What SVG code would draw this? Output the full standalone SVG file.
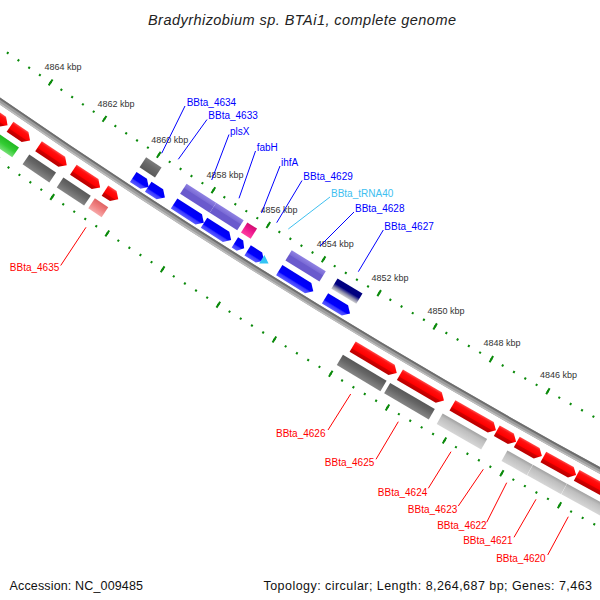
<svg xmlns="http://www.w3.org/2000/svg" width="600" height="600" viewBox="0 0 600 600">
<defs>
<style>
text{font-family:"Liberation Sans",Arial,sans-serif}
.kb{font-size:9px;fill:#333;text-anchor:middle}
.lb{font-size:10px;fill:#0000ff}
.lc{font-size:10px;fill:#3ec0f0}
.lr{font-size:10px;fill:#ff0000;text-anchor:end}
.ft{font-size:12.5px;fill:#111}
.ldb{stroke:#0000ff;stroke-width:1;fill:none}
.ldc{stroke:#3ec0f0;stroke-width:1;fill:none}
.ldr{stroke:#ff0000;stroke-width:1;fill:none}
.tk{fill:none;stroke:#0b8a0b}
</style>
<linearGradient id="gRed" x1="0" y1="0" x2="0" y2="1"><stop offset="0" stop-color="#ff4a4a"/><stop offset="0.2" stop-color="#ff1010"/><stop offset="0.62" stop-color="#ff0000"/><stop offset="0.7" stop-color="#d00000"/><stop offset="1" stop-color="#b80000"/></linearGradient>
<linearGradient id="gBlue" x1="0" y1="0" x2="0" y2="1"><stop offset="0" stop-color="#0000f0"/><stop offset="0.6" stop-color="#0000ff"/><stop offset="0.72" stop-color="#3a3aff"/><stop offset="1" stop-color="#5c5cff"/></linearGradient>
<linearGradient id="gPur" x1="0" y1="0" x2="0" y2="1"><stop offset="0" stop-color="#9082e2"/><stop offset="0.38" stop-color="#7a6bd6"/><stop offset="0.45" stop-color="#6a5acd"/><stop offset="1" stop-color="#6a5acd"/></linearGradient>
<linearGradient id="gNavy" x1="0" y1="0" x2="0" y2="1"><stop offset="0" stop-color="#000080"/><stop offset="0.45" stop-color="#000080"/><stop offset="0.75" stop-color="#8a8aa8"/><stop offset="1" stop-color="#d2d2d2"/></linearGradient>
<linearGradient id="gPink" x1="0" y1="0" x2="0" y2="1"><stop offset="0" stop-color="#d01070"/><stop offset="0.4" stop-color="#ec148c"/><stop offset="1" stop-color="#ff40a0"/></linearGradient>
<linearGradient id="gGrayU" x1="0" y1="0" x2="0" y2="1"><stop offset="0" stop-color="#7c7c7c"/><stop offset="0.4" stop-color="#6a6a6a"/><stop offset="1" stop-color="#5a5a5a"/></linearGradient>
<linearGradient id="gDark" x1="0" y1="0" x2="0" y2="1"><stop offset="0" stop-color="#585858"/><stop offset="0.4" stop-color="#666666"/><stop offset="1" stop-color="#868686"/></linearGradient>
<linearGradient id="gLight" x1="0" y1="0" x2="0" y2="1"><stop offset="0" stop-color="#a2a2a2"/><stop offset="0.3" stop-color="#bebebe"/><stop offset="1" stop-color="#d6d6d6"/></linearGradient>
<linearGradient id="gGreen" x1="0" y1="0" x2="0" y2="1"><stop offset="0" stop-color="#22b822"/><stop offset="0.5" stop-color="#33cc33"/><stop offset="1" stop-color="#77e077"/></linearGradient>
<linearGradient id="gSalmon" x1="0" y1="0" x2="0" y2="1"><stop offset="0" stop-color="#e06464"/><stop offset="0.5" stop-color="#f08080"/><stop offset="1" stop-color="#f6a8a8"/></linearGradient>
</defs>
<rect width="600" height="600" fill="#ffffff"/>

<text x="302" y="24.5" font-size="14.5" font-style="italic" fill="#222" text-anchor="middle" textLength="308" lengthAdjust="spacing">Bradyrhizobium sp. BTAi1, complete genome</text>

<g id="ticks">
<path class="tk" transform="translate(3850 -5481) rotate(118.2433)" d="M6737 0A6737 6737 0 0 1 5834.41 3368.5" stroke-width="2.2" stroke-dasharray="2 11.0127" stroke-dashoffset="1"/>
<path class="tk" transform="translate(3850 -5481) rotate(118.2433)" d="M6737 0A6737 6737 0 0 1 5834.41 3368.5" stroke-width="7" stroke-dasharray="2 63.063" stroke-dashoffset="1"/>
<path class="tk" transform="translate(3850 -5481) rotate(118.2433)" d="M6831 0A6831 6831 0 0 1 5915.82 3415.5" stroke-width="2.2" stroke-dasharray="2 11.1943" stroke-dashoffset="1"/>
<path class="tk" transform="translate(3850 -5481) rotate(118.2433)" d="M6831 0A6831 6831 0 0 1 5915.82 3415.5" stroke-width="7" stroke-dasharray="2 63.971" stroke-dashoffset="1"/>
<text class="kb" x="63" y="70">4864 kbp</text>
<text class="kb" x="116" y="106.5">4862 kbp</text>
<text class="kb" x="169.7" y="143">4860 kbp</text>
<text class="kb" x="225" y="178">4858 kbp</text>
<text class="kb" x="279" y="213.3">4856 kbp</text>
<text class="kb" x="335.3" y="247">4854 kbp</text>
<text class="kb" x="390" y="280.5">4852 kbp</text>
<text class="kb" x="446" y="313.5">4850 kbp</text>
<text class="kb" x="502" y="345.5">4848 kbp</text>
<text class="kb" x="558.5" y="378">4846 kbp</text>
</g>

<g id="backbone" fill="none">
<circle cx="3850" cy="-5481" r="6781" stroke="#9c9c9c" stroke-width="6"/>
<circle cx="3850" cy="-5481" r="6779" stroke="#6e6e6e" stroke-width="2"/>
<circle cx="3850" cy="-5481" r="6783.2" stroke="#bdbdbd" stroke-width="1.6"/>
</g>

<g id="connectors">
<path class="ldb" d="M185 106L161.7 153.3"/>
<path class="ldb" d="M207 119.5L178.3 159.3"/>
<path class="ldb" d="M229 134.5L211.7 180"/>
<path class="ldb" d="M255.5 151L239 198.3"/>
<path class="ldb" d="M280 166L261.5 213"/>
<path class="ldb" d="M302 180.5L276.7 222.7"/>
<path class="ldc" d="M330 197L288.3 229"/>
<path class="ldb" d="M354 212L320 246"/>
<path class="ldb" d="M383.3 230L358.3 271.7"/>
<path class="ldr" d="M60.7 265.5L86 227.3"/>
<path class="ldr" d="M328 430L350.7 394"/>
<path class="ldr" d="M376 459.3L398.3 421.7"/>
<path class="ldr" d="M428.3 488.3L451 451.7"/>
<path class="ldr" d="M458.3 506L483.3 469.3"/>
<path class="ldr" d="M486.7 522.3L506.7 482.7"/>
<path class="ldr" d="M514 537.3L536 499.3"/>
<path class="ldr" d="M547.7 555L568.3 516.7"/>
</g>

<!-- upper side genes -->
<g id="BBta_4634">
<rect transform="translate(3850 -5481) rotate(33.2233) translate(0 6781)" x="-9.25" y="-35" width="18.5" height="12" fill="url(#gGrayU)"/>
<path transform="translate(3850 -5481) rotate(33.2233) translate(0 6781)" d="M-9.25 -17.5H3.25L9.25 -11.5L3.25 -5.5H-9.25Z" fill="url(#gBlue)"/>
<text class="lb" x="186.7" y="105.5">BBta_4634</text>
</g>
<g id="BBta_4633">
<path transform="translate(3850 -5481) rotate(33.0656) translate(0 6781)" d="M-9.95 -17.5H3.95L9.95 -11.5L3.95 -5.5H-9.95Z" fill="url(#gBlue)"/>
<text class="lb" x="208.3" y="118.9">BBta_4633</text>
</g>
<g id="plsX">
<rect transform="translate(3850 -5481) rotate(32.7419) translate(0 6781)" x="-17.6" y="-35" width="35.2" height="12" fill="url(#gPur)"/>
<path transform="translate(3850 -5481) rotate(32.7392) translate(0 6781)" d="M-17.65 -17.5H11.65L17.65 -11.5L11.65 -5.5H-17.65Z" fill="url(#gBlue)"/>
<text class="lb" x="230" y="134.5">plsX</text>
</g>
<g id="fabH">
<rect transform="translate(3850 -5481) rotate(32.4542) translate(0 6781)" x="-16.3" y="-35" width="32.6" height="12" fill="url(#gPur)"/>
<path transform="translate(3850 -5481) rotate(32.4514) translate(0 6781)" d="M-16.05 -17.5H10.05L16.05 -11.5L10.05 -5.5H-16.05Z" fill="url(#gBlue)"/>
<text class="lb" x="256.7" y="150.5">fabH</text>
</g>
<g id="ihfA">
<rect transform="translate(3850 -5481) rotate(32.2301) translate(0 6781)" x="-5.75" y="-35" width="11.5" height="12" fill="url(#gPink)"/>
<path transform="translate(3850 -5481) rotate(32.2315) translate(0 6781)" d="M-5.5 -17.5H0.5L5.5 -11.5L0.5 -5.5H-5.5Z" fill="url(#gBlue)"/>
<text class="lb" x="281" y="165.5">ihfA</text>
</g>
<g id="BBta_4629">
<path transform="translate(3850 -5481) rotate(32.0685) translate(0 6781)" d="M-9.7 -17.5H3.7L9.7 -11.5L3.7 -5.5H-9.7Z" fill="url(#gBlue)"/>
<text class="lb" x="303.3" y="179.9">BBta_4629</text>
</g>
<g id="BBta_tRNA40">
<path transform="translate(3850 -5481) rotate(31.9755) translate(0 6781)" d="M-4 -16.5L4 -11.5L-4 -6.5Z" fill="#33c4f4"/>
<text class="lc" x="331" y="196.5">BBta_tRNA40</text>
</g>
<g id="BBta_4628">
<rect transform="translate(3850 -5481) rotate(31.6643) translate(0 6781)" x="-20" y="-35" width="40" height="12" fill="url(#gPur)"/>
<path transform="translate(3850 -5481) rotate(31.6657) translate(0 6781)" d="M-20 -17.5H14L20 -11.5L14 -5.5H-20Z" fill="url(#gBlue)"/>
<text class="lb" x="355" y="211.5">BBta_4628</text>
</g>
<g id="BBta_4627">
<rect transform="translate(3850 -5481) rotate(31.2534) translate(0 6781)" x="-14.6" y="-35" width="29.2" height="12" fill="url(#gNavy)"/>
<path transform="translate(3850 -5481) rotate(31.2562) translate(0 6781)" d="M-14.65 -17.5H8.65L14.65 -11.5L8.65 -5.5H-14.65Z" fill="url(#gBlue)"/>
<text class="lb" x="384.3" y="229.9">BBta_4627</text>
</g>

<!-- lower side genes, upper-left group -->
<g id="gene_r1">
<path transform="translate(3850 -5481) rotate(34.6551) translate(0 6781)" d="M-27.1 9.5H21.1L27.1 15.5L21.1 21.5H-27.1Z" fill="url(#gRed)"/>
</g>
<g id="gene_r2">
<path transform="translate(3850 -5481) rotate(34.2996) translate(0 6781)" d="M-12.1 9.5H6.1L12.1 15.5L6.1 21.5H-12.1Z" fill="url(#gRed)"/>
<rect transform="translate(3850 -5481) rotate(34.3438) translate(0 6781)" x="-12.2" y="27.5" width="24.4" height="12" fill="url(#gGreen)"/>
</g>
<g id="gene_r3">
<path transform="translate(3850 -5481) rotate(33.9676) translate(0 6781)" d="M-17 9.5H11L17 15.5L11 21.5H-17Z" fill="url(#gRed)"/>
<rect transform="translate(3850 -5481) rotate(34.0008) translate(0 6781)" x="-16.15" y="27.5" width="32.3" height="12" fill="url(#gDark)"/>
</g>
<g id="gene_r4">
<path transform="translate(3850 -5481) rotate(33.6217) translate(0 6781)" d="M-16.05 9.5H10.05L16.05 15.5L10.05 21.5H-16.05Z" fill="url(#gRed)"/>
<rect transform="translate(3850 -5481) rotate(33.6522) translate(0 6781)" x="-16.45" y="27.5" width="32.9" height="12" fill="url(#gDark)"/>
</g>
<g id="BBta_4635">
<path transform="translate(3850 -5481) rotate(33.37) translate(0 6781)" d="M-7.95 9.5H1.95L7.95 15.5L1.95 21.5H-7.95Z" fill="url(#gRed)"/>
<rect transform="translate(3850 -5481) rotate(33.4051) translate(0 6781)" x="-8" y="27.5" width="16" height="12" fill="url(#gSalmon)"/>
<text class="lr" x="59.3" y="270.5">BBta_4635</text>
</g>

<!-- lower side genes, lower-right group -->
<g id="BBta_4626">
<path transform="translate(3850 -5481) rotate(30.7527) translate(0 6781)" d="M-25.65 9.5H19.65L25.65 15.5L19.65 21.5H-25.65Z" fill="url(#gRed)"/>
<rect transform="translate(3850 -5481) rotate(30.7903) translate(0 6781)" x="-25.4" y="27.5" width="50.8" height="12" fill="url(#gDark)"/>
<text class="lr" x="325.5" y="437.2">BBta_4626</text>
</g>
<g id="BBta_4625">
<path transform="translate(3850 -5481) rotate(30.2906) translate(0 6781)" d="M-25.5 9.5H19.5L25.5 15.5L19.5 21.5H-25.5Z" fill="url(#gRed)"/>
<rect transform="translate(3850 -5481) rotate(30.3238) translate(0 6781)" x="-25.85" y="27.5" width="51.7" height="12" fill="url(#gDark)"/>
<text class="lr" x="374.3" y="465.5">BBta_4625</text>
</g>
<g id="BBta_4624">
<path transform="translate(3850 -5481) rotate(29.7816) translate(0 6781)" d="M-25.05 9.5H19.05L25.05 15.5L19.05 21.5H-25.05Z" fill="url(#gRed)"/>
<rect transform="translate(3850 -5481) rotate(29.8142) translate(0 6781)" x="-25.65" y="27.5" width="51.3" height="12" fill="url(#gLight)"/>
<text class="lr" x="427.3" y="496.2">BBta_4624</text>
</g>
<g id="BBta_4623">
<path transform="translate(3850 -5481) rotate(29.4689) translate(0 6781)" d="M-11.1 9.5H5.1L11.1 15.5L5.1 21.5H-11.1Z" fill="url(#gRed)"/>
<text class="lr" x="457.3" y="512.9">BBta_4623</text>
</g>
<g id="BBta_4622">
<path transform="translate(3850 -5481) rotate(29.2476) translate(0 6781)" d="M-14.4 9.5H8.4L14.4 15.5L8.4 21.5H-14.4Z" fill="url(#gRed)"/>
<rect transform="translate(3850 -5481) rotate(29.2808) translate(0 6781)" x="-14.5" y="27.5" width="29" height="12" fill="url(#gLight)"/>
<text class="lr" x="486.7" y="528.9">BBta_4622</text>
</g>
<g id="BBta_4621">
<path transform="translate(3850 -5481) rotate(28.9543) translate(0 6781)" d="M-18.7 9.5H12.7L18.7 15.5L12.7 21.5H-18.7Z" fill="url(#gRed)"/>
<rect transform="translate(3850 -5481) rotate(28.993) translate(0 6781)" x="-19.4" y="27.5" width="38.8" height="12" fill="url(#gLight)"/>
<text class="lr" x="512.7" y="543.9">BBta_4621</text>
</g>
<g id="BBta_4620">
<path transform="translate(3850 -5481) rotate(28.5587) translate(0 6781)" d="M-27.55 9.5H21.55L27.55 15.5L21.55 21.5H-27.55Z" fill="url(#gRed)"/>
<rect transform="translate(3850 -5481) rotate(28.5767) translate(0 6781)" x="-29.8" y="27.5" width="59.6" height="12" fill="url(#gLight)"/>
<text class="lr" x="545.7" y="561.5">BBta_4620</text>
</g>

<text class="ft" x="9.6" y="590" textLength="133.4" lengthAdjust="spacing">Accession: NC_009485</text>
<text class="ft" x="263.5" y="590" textLength="328.5" lengthAdjust="spacing">Topology: circular; Length: 8,264,687 bp; Genes: 7,463</text>
</svg>
